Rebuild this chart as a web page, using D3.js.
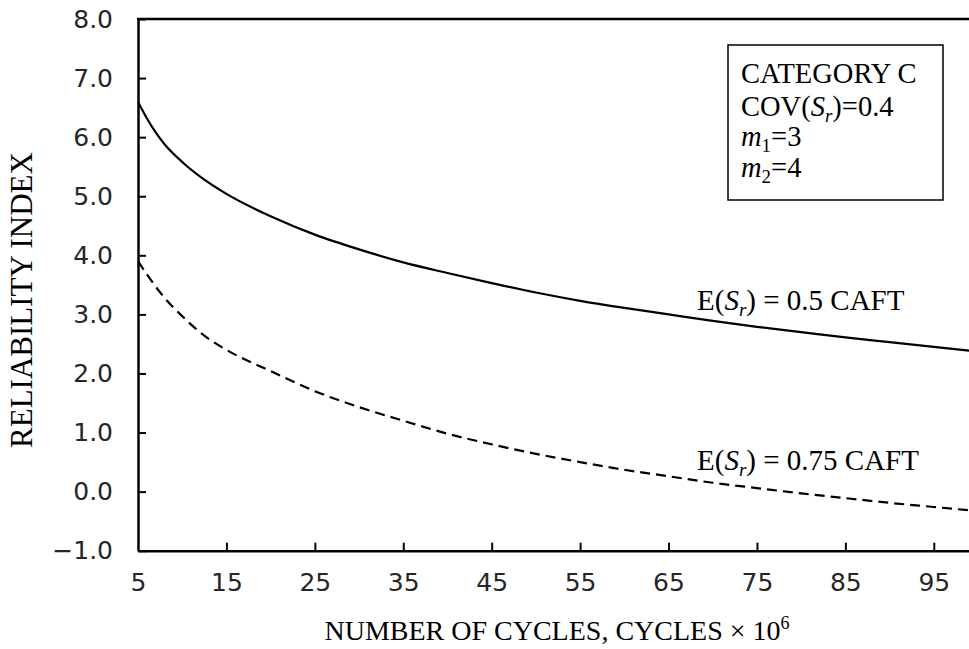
<!DOCTYPE html>
<html>
<head>
<meta charset="utf-8">
<script src="https://cdn.jsdelivr.net/npm/d3@7"></script>
<style>
  html, body { margin: 0; padding: 0; background: #fff; overflow: hidden; }
  svg { display: block; }
  .tick text { font-family: "DejaVu Sans", sans-serif; font-size: 25px; fill: #262626; }
  .serif { font-family: "Liberation Serif", "Times New Roman", serif; fill: #000; }
</style>
</head>
<body>
<svg id="chart" width="969" height="649"></svg>
<script>
// Number of cycles (millions)
const cycles = [5, 6, 7, 8, 10, 12.5, 15, 20, 25, 30, 35, 40, 45, 50, 55, 60, 65, 70, 75, 80, 85, 90, 95, 100];
// Reliability index for E(Sr) = 0.5 CAFT
const betaHalf = [6.60, 6.32, 6.08, 5.88, 5.58, 5.28, 5.04, 4.66, 4.35, 4.10, 3.88, 3.70, 3.53, 3.37, 3.23, 3.11, 3.00, 2.89, 2.79, 2.70, 2.61, 2.53, 2.45, 2.37];
// Reliability index for E(Sr) = 0.75 CAFT
const betaThreeQuarter = [3.90, 3.68, 3.47, 3.28, 2.97, 2.64, 2.40, 2.04, 1.70, 1.43, 1.20, 0.98, 0.80, 0.64, 0.50, 0.37, 0.26, 0.15, 0.06, -0.03, -0.11, -0.19, -0.26, -0.33];
const xTicks = [5, 15, 25, 35, 45, 55, 65, 75, 85, 95];
const yTicks = [-1, 0, 1, 2, 3, 4, 5, 6, 7, 8];

const svg = d3.select("#chart");

const x = d3.scaleLinear().domain([5, 100]).range([138, 978]);
const y = d3.scaleLinear().domain([-1, 8]).range([550.7, 19]);

// Top frame line
svg.append("line")
  .attr("x1", x(5) - 1).attr("x2", x(100))
  .attr("y1", y(8)).attr("y2", y(8))
  .attr("stroke", "#000").attr("stroke-width", 2.5);

// Axes
const yAxis = svg.append("g")
  .attr("transform", `translate(${x(5)},0)`)
  .call(d3.axisLeft(y).tickValues(yTicks).tickFormat(d3.format(".1f"))
    .tickSizeInner(-8).tickSizeOuter(0).tickPadding(25));
const xAxis = svg.append("g")
  .attr("transform", `translate(0,${y(-1)})`)
  .call(d3.axisBottom(x).tickValues(xTicks).tickFormat(d3.format("d"))
    .tickSizeInner(-8).tickSizeOuter(0).tickPadding(23));

[yAxis, xAxis].forEach(g => {
  g.select(".domain").attr("stroke", "#000").attr("stroke-width", 2.5);
  g.selectAll(".tick line").attr("stroke", "#000").attr("stroke-width", 2);
});
xAxis.selectAll(".tick").filter(d => d === 5).select("line").remove();

// Curves
const line = d3.line().x((d, i) => x(cycles[i])).y(d => y(d)).curve(d3.curveMonotoneX);
svg.append("path").datum(betaHalf)
  .attr("d", line).attr("fill", "none")
  .attr("stroke", "#000").attr("stroke-width", 2.2);
svg.append("path").datum(betaThreeQuarter)
  .attr("d", line).attr("fill", "none")
  .attr("stroke", "#000").attr("stroke-width", 2.2)
  .attr("stroke-dasharray", "10,6");

// Axis titles
svg.append("text").attr("class", "serif")
  .attr("transform", "translate(32,300) rotate(-90)")
  .attr("text-anchor", "middle").attr("font-size", 31)
  .text("RELIABILITY INDEX");

const xt = svg.append("text").attr("class", "serif")
  .attr("x", 557).attr("y", 640)
  .attr("text-anchor", "middle").attr("font-size", 28);
xt.append("tspan").text("NUMBER OF CYCLES, CYCLES × 10");
xt.append("tspan").attr("font-size", 18).attr("dy", -11).text("6");

// Curve annotations
function eLabel(px, py, value) {
  const t = svg.append("text").attr("class", "serif")
    .attr("x", px).attr("y", py).attr("font-size", 29);
  t.append("tspan").text("E(");
  t.append("tspan").attr("font-style", "italic").text("S");
  t.append("tspan").attr("font-style", "italic").attr("font-size", 19).attr("dy", 6).text("r");
  t.append("tspan").attr("dy", -6).text(`) = ${value} CAFT`);
}
eLabel(697, 310, "0.5");
eLabel(697, 470, "0.75");

// Parameter box
svg.append("rect")
  .attr("x", 728).attr("y", 45).attr("width", 215).attr("height", 155)
  .attr("fill", "#fff").attr("stroke", "#000").attr("stroke-width", 1.5);

const bx = 741, fs = 28.5;
svg.append("text").attr("class", "serif").attr("x", bx).attr("y", 83)
  .attr("font-size", fs).text("CATEGORY C");

const cov = svg.append("text").attr("class", "serif").attr("x", bx).attr("y", 116).attr("font-size", fs);
cov.append("tspan").text("COV(");
cov.append("tspan").attr("font-style", "italic").text("S");
cov.append("tspan").attr("font-style", "italic").attr("font-size", 19).attr("dy", 6).text("r");
cov.append("tspan").attr("dy", -6).text(")=0.4");

[["1", "3", 146], ["2", "4", 177]].forEach(([sub, val, py]) => {
  const t = svg.append("text").attr("class", "serif").attr("x", bx).attr("y", py).attr("font-size", fs);
  t.append("tspan").attr("font-style", "italic").text("m");
  t.append("tspan").attr("font-size", 19).attr("dy", 6).text(sub);
  t.append("tspan").attr("dy", -6).text("=" + val);
});
</script>
</body>
</html>
